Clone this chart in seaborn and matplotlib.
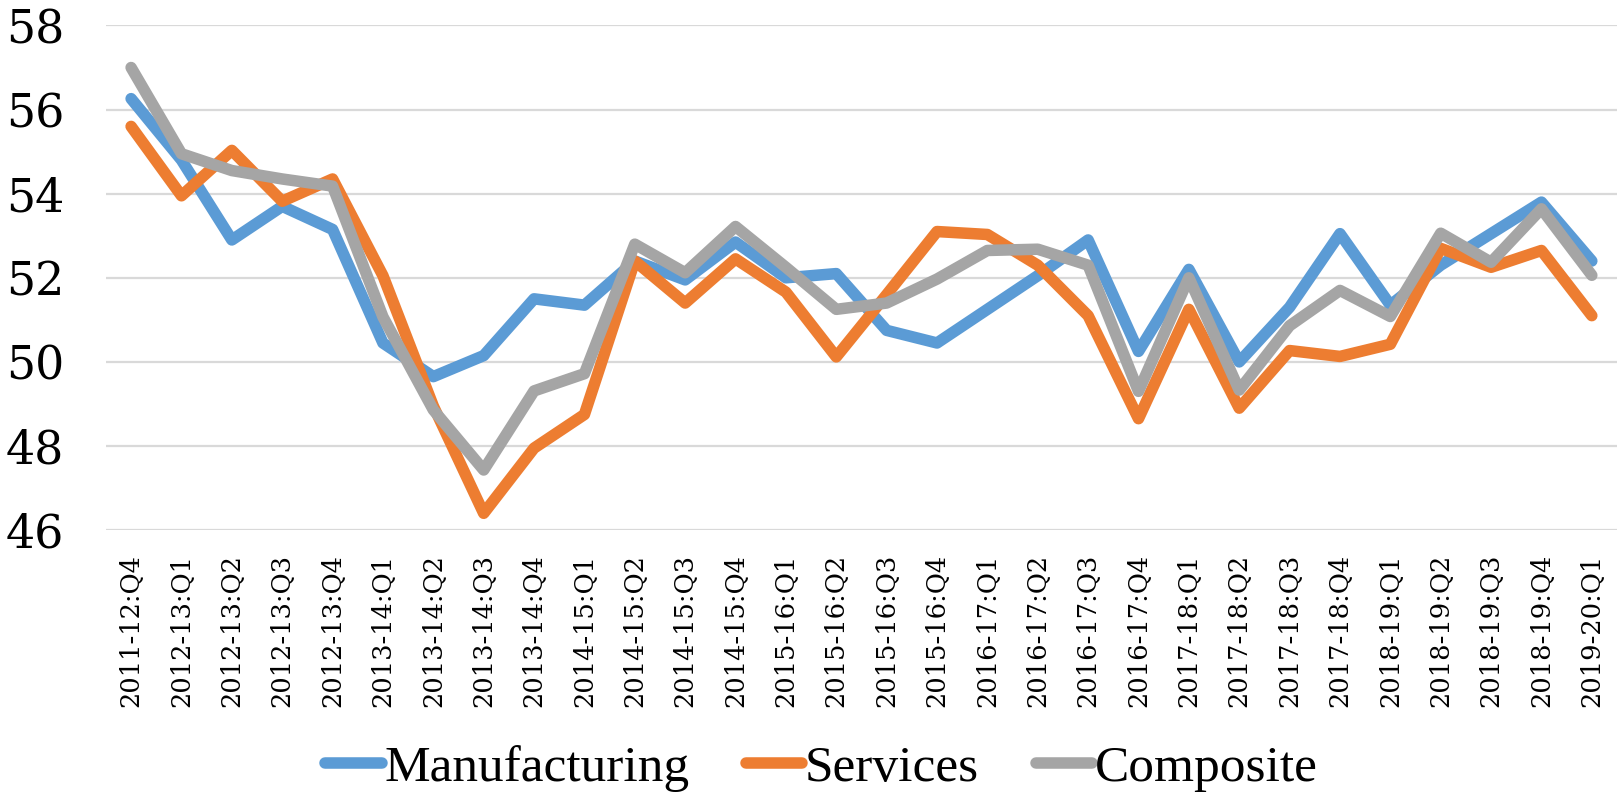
import matplotlib
matplotlib.use("Agg")
import matplotlib.pyplot as plt
import seaborn as sns
import pandas as pd
import numpy as np

quarters = [
    "2011-12:Q4", "2012-13:Q1", "2012-13:Q2", "2012-13:Q3", "2012-13:Q4",
    "2013-14:Q1", "2013-14:Q2", "2013-14:Q3", "2013-14:Q4", "2014-15:Q1",
    "2014-15:Q2", "2014-15:Q3", "2014-15:Q4", "2015-16:Q1", "2015-16:Q2",
    "2015-16:Q3", "2015-16:Q4", "2016-17:Q1", "2016-17:Q2", "2016-17:Q3",
    "2016-17:Q4", "2017-18:Q1", "2017-18:Q2", "2017-18:Q3", "2017-18:Q4",
    "2018-19:Q1", "2018-19:Q2", "2018-19:Q3", "2018-19:Q4", "2019-20:Q1",
]

manufacturing = [
    56.26, 54.80, 52.90, 53.70, 53.15, 50.45, 49.65, 50.15, 51.50, 51.35,
    52.40, 51.95, 52.85, 52.00, 52.10, 50.75, 50.45, 51.25, 52.05, 52.90,
    50.25, 52.20, 50.00, 51.30, 53.05, 51.35, 52.30, 53.05, 53.80, 52.40,
]
services = [
    55.60, 53.95, 55.03, 53.82, 54.35, 52.05, 48.95, 46.40, 47.95, 48.75,
    52.40, 51.40, 52.45, 51.66, 50.12, 51.60, 53.10, 53.03, 52.30, 51.10,
    48.65, 51.25, 48.90, 50.27, 50.13, 50.42, 52.70, 52.25, 52.65, 51.10,
]
composite = [
    57.00, 54.95, 54.55, 54.35, 54.18, 51.07, 48.86, 47.43, 49.31, 49.72,
    52.80, 52.12, 53.22, 52.25, 51.25, 51.40, 51.97, 52.65, 52.68, 52.30,
    49.30, 52.00, 49.33, 50.86, 51.70, 51.08, 53.06, 52.37, 53.64, 52.06,
]

series_names = ["Manufacturing", "Services", "Composite"]
series_colors = ["#5B9BD5", "#ED7D31", "#A5A5A5"]
y_ticks = [46, 48, 50, 52, 54, 56, 58]

frames = []
for name, vals in zip(series_names, [manufacturing, services, composite]):
    frames.append(pd.DataFrame({
        "pos": np.arange(len(quarters)),
        "quarter": quarters,
        "value": vals,
        "series": name,
    }))
df = pd.concat(frames, ignore_index=True)

sns.set_theme(style="white")
plt.rcParams["font.family"] = ["DejaVu Serif"]

fig = plt.figure(figsize=(16.17, 7.96), dpi=100)
ax = fig.add_axes([0.0655, 0.334, 0.9345, 0.634])

sns.lineplot(
    data=df, x="pos", y="value", hue="series",
    hue_order=series_names, palette=series_colors,
    linewidth=8.3, sort=False, ax=ax, legend=False,
)
for line in ax.get_lines():
    line.set_solid_capstyle("round")
    line.set_solid_joinstyle("round")

ax.set_xlim(-0.5, len(quarters) - 0.5)
ax.set_ylim(46, 58)
ax.set_yticks(y_ticks)
ax.set_yticklabels([str(t) for t in y_ticks], fontsize=33,
                   family="DejaVu Serif", color="black")
ax.set_xticks(np.arange(len(quarters)))
ax.set_xticklabels(quarters, rotation=90, fontsize=18.5,
                   family="DejaVu Serif", color="black")
ax.tick_params(axis="y", length=0, pad=30)
ax.tick_params(axis="x", length=0, pad=17)
ax.set_xlabel("")
ax.set_ylabel("")

ax.grid(axis="y", color="#D9D9D9", linewidth=1.6)
ax.grid(axis="x", visible=False)
ax.set_axisbelow(True)
for spine in ax.spines.values():
    spine.set_visible(False)

handles = [
    plt.Line2D([0], [0], color=c, linewidth=8.3, solid_capstyle="round")
    for c in series_colors
]
leg = fig.legend(
    handles, series_names, loc="center", bbox_to_anchor=(0.508, 0.034),
    ncol=3, frameon=False, handlelength=1.1, handletextpad=0.05,
    columnspacing=1.1, prop={"family": "Liberation Serif", "size": 37},
)
for txt in leg.get_texts():
    txt.set_color("black")

fig.savefig("out.png", dpi=100, facecolor="white")
